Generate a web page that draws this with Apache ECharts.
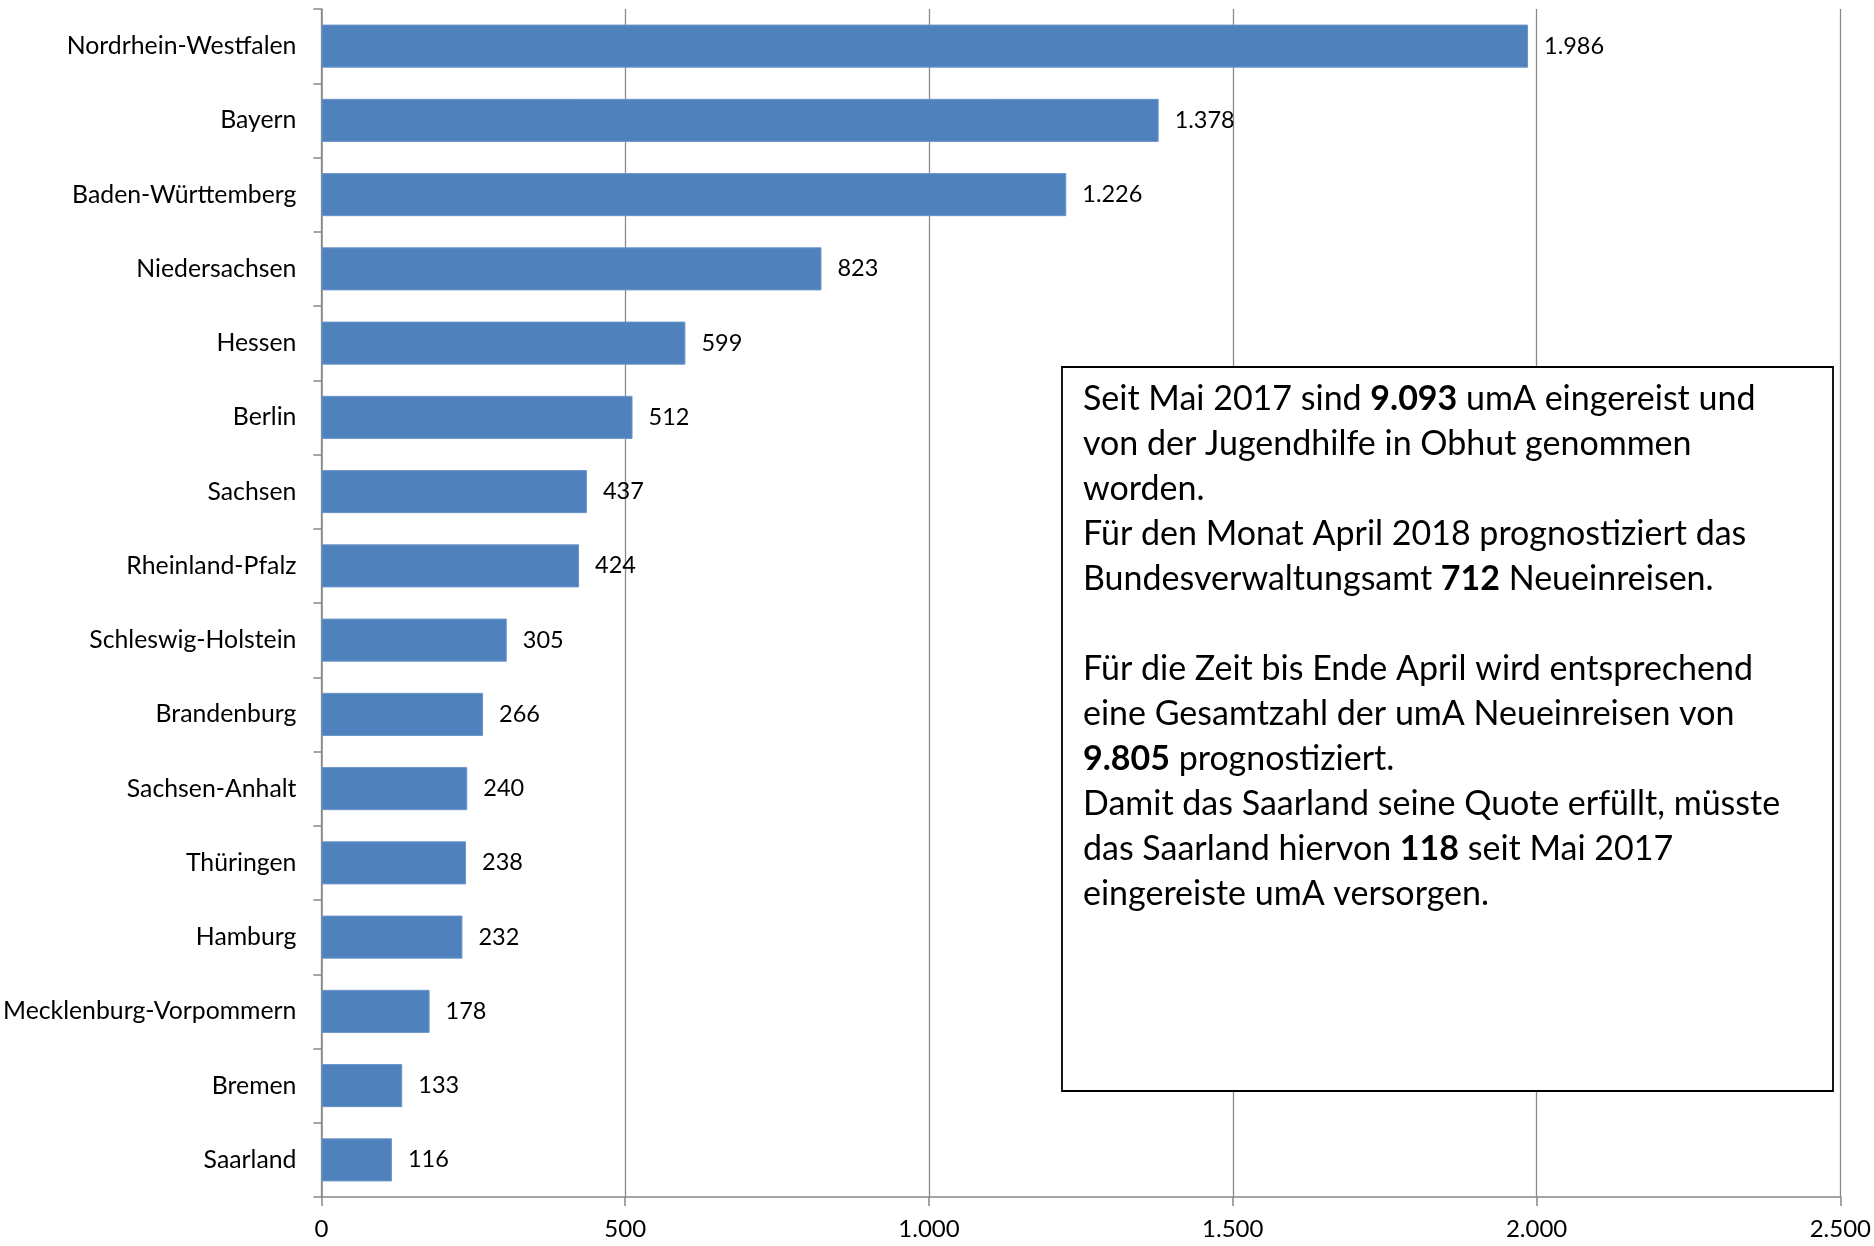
<!DOCTYPE html>
<html>
<head>
<meta charset="utf-8">
<script src="https://cdn.jsdelivr.net/npm/echarts@6/dist/echarts.min.js"></script>
<style>
html,body{margin:0;padding:0;background:#fff;}
#c{width:1874px;height:1246px;}
</style>
</head>
<body>
<div id="c"></div>
<script>
const categories = ["Nordrhein-Westfalen","Bayern","Baden-Württemberg","Niedersachsen","Hessen","Berlin","Sachsen","Rheinland-Pfalz","Schleswig-Holstein","Brandenburg","Sachsen-Anhalt","Thüringen","Hamburg","Mecklenburg-Vorpommern","Bremen","Saarland"];
const values = [1986,1378,1226,823,599,512,437,424,305,266,240,238,232,178,133,116];
const xTicks = [0,500,1000,1500,2000,2500];

const FONT = 'Lato';
function fmt(v){ return String(v).replace(/\B(?=(\d{3})+(?!\d))/g, '.'); }

const chart = echarts.init(document.getElementById('c'), null, {renderer:'canvas'});

const noteLines = [
  [['n','Seit Mai 2017 sind '],['b','9.093'],['n',' umA eingereist und']],
  [['n','von der Jugendhilfe in Obhut genommen']],
  [['n','worden.']],
  [['n','Für den Monat April 2018 prognostiziert das']],
  [['n','Bundesverwaltungsamt '],['b','712'],['n',' Neueinreisen.']],
  [['n',' ']],
  [['n','Für die Zeit bis Ende April wird entsprechend']],
  [['n','eine Gesamtzahl der umA Neueinreisen von']],
  [['b','9.805'],['n',' prognostiziert.']],
  [['n','Damit das Saarland seine Quote erfüllt, müsste']],
  [['n','das Saarland hiervon '],['b','118'],['n',' seit Mai 2017']],
  [['n','eingereiste umA versorgen.']]
];
const noteText = noteLines.map(l => l.map(p => '{' + p[0] + '|' + p[1] + '}').join('')).join('\n');

chart.setOption({
  animation:false,
  grid:{left:320, right:33, top:9, bottom:49, containLabel:false},
  xAxis:{
    type:'value', min:0, max:2500, interval:500,
    axisLine:{show:true, lineStyle:{color:'#868686', width:1.5}},
    axisTick:{show:true, length:9, lineStyle:{color:'#868686', width:1.5}},
    splitLine:{show:true, lineStyle:{color:'#8a8a8a', width:1.3}},
    axisLabel:{margin:20, fontFamily:FONT, fontSize:24, color:'#000', formatter:v=>fmt(v)}
  },
  yAxis:{
    type:'category', data:categories, inverse:true,
    axisLine:{show:true, lineStyle:{color:'#868686', width:1.5}},
    axisTick:{show:true, length:8, alignWithLabel:false, lineStyle:{color:'#868686', width:1.5}},
    axisLabel:{margin:25, fontFamily:FONT, fontSize:24.8, color:'#000'}
  },
  series:[{
    type:'bar', data:values, barWidth:'58%',
    itemStyle:{color:'#4F81BD', borderColor:'#6b96c9', borderWidth:1},
    label:{show:true, position:'right', distance:16, fontFamily:FONT, fontSize:23.5, color:'#000', formatter:p=>fmt(p.value)}
  }],
  graphic:[
    {type:'rect', shape:{x:1062, y:367, width:771, height:724}, style:{fill:'#fff', stroke:'#000', lineWidth:1.8}, z:100},
    {type:'text', x:1083, y:377, z:101, style:{
      text:noteText,
      rich:{
        n:{fontFamily:FONT, fontSize:34, color:'#000', lineHeight:45},
        b:{fontFamily:FONT, fontSize:34, fontWeight:'bold', color:'#000', lineHeight:45}
      }
    }}
  ]
});
</script>
</body>
</html>
